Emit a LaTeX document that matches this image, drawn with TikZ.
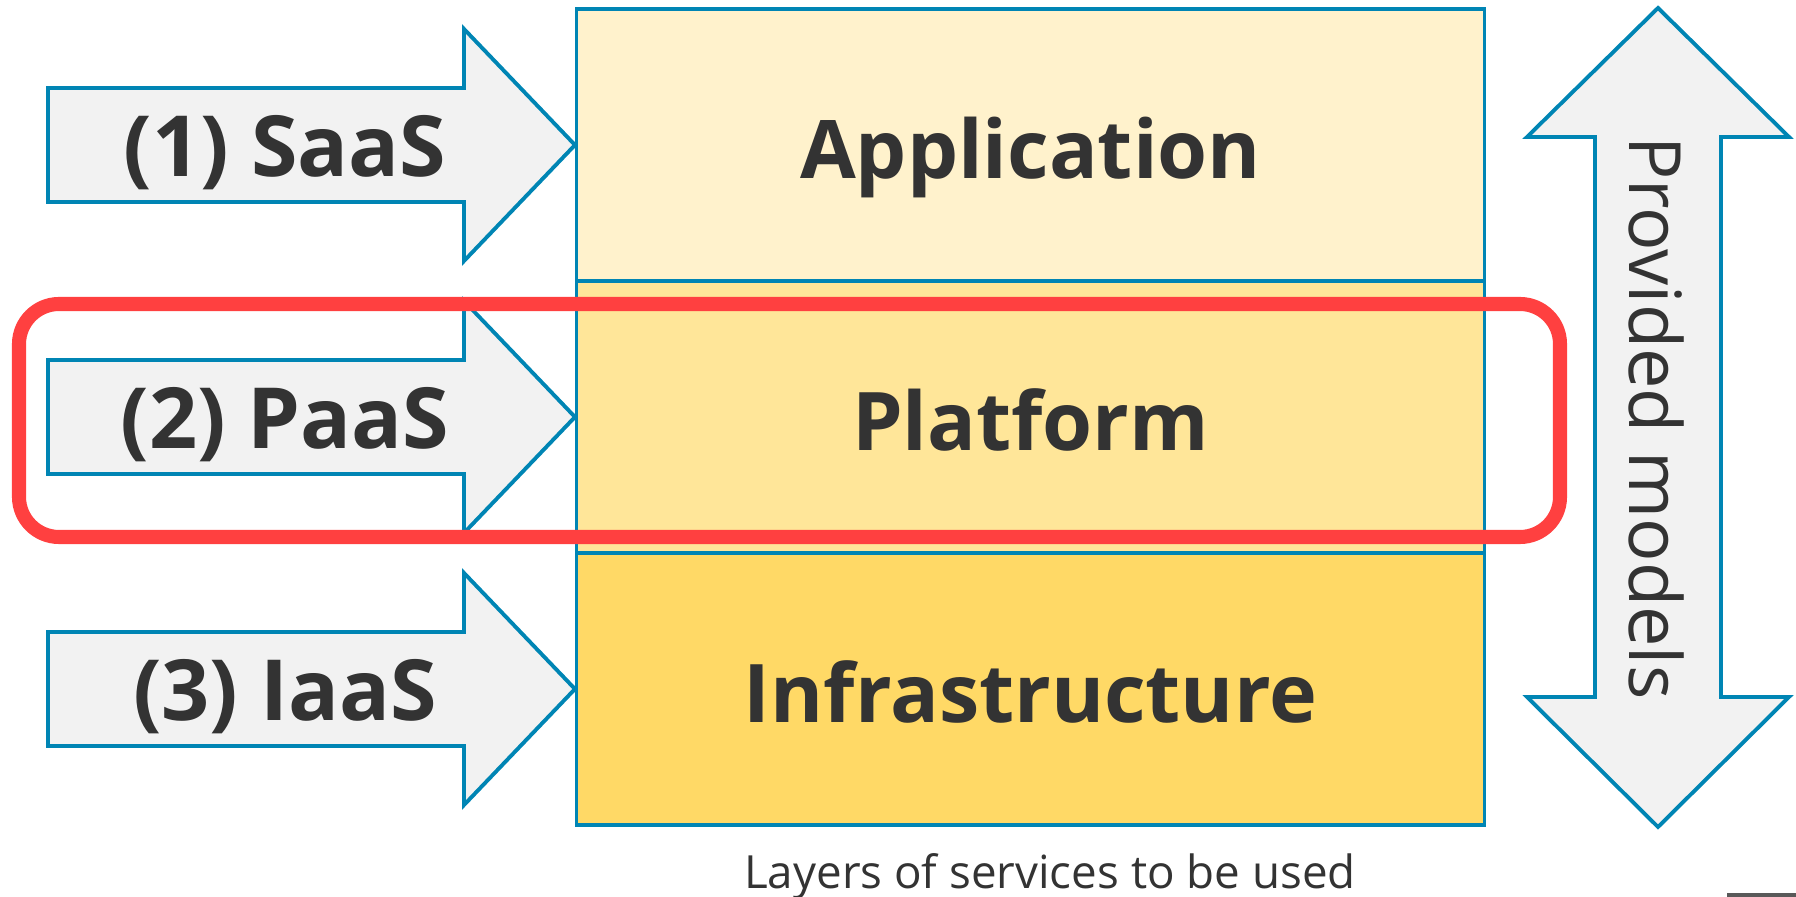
\documentclass[tikz,border=0pt]{standalone}
\usepackage{fontspec}
\setmainfont{Open Sans}
\definecolor{edgeblue}{RGB}{0,133,180}
\definecolor{arrowgray}{RGB}{242,242,242}
\definecolor{inkgray}{RGB}{51,51,51}
\definecolor{appfill}{RGB}{255,242,204}
\definecolor{platfill}{RGB}{255,230,153}
\definecolor{infrafill}{RGB}{255,217,102}
\definecolor{markred}{RGB}{255,64,64}
\tikzset{
  layer/.style={draw=edgeblue,line width=1pt,minimum width=9.07cm,minimum height=2.72cm,
    inner sep=0pt,text=inkgray,font=\fontsize{23}{28}\selectfont\bfseries,
    text height=18.8pt,text depth=0pt},
  blockarrow/.style={draw=edgeblue,fill=arrowgray,line width=1.1pt,line join=miter},
  armlabel/.style={text=inkgray,font=\fontsize{24}{28}\selectfont\bfseries,anchor=base,inner sep=0pt},
}
\begin{document}
\begin{tikzpicture}[x=0.01cm,y=0.01cm]
        \useasboundingbox (0,0) rectangle (1796,897);
        % layers
        \node[layer,fill=appfill] (app) at (1030.5,752) {Application};
        \node[layer,fill=platfill] (plat) at (1030.5,480) {Platform};
        \node[layer,fill=infrafill] (infra) at (1030.5,208) {Infrastructure};
        % saas
        \draw[blockarrow] (48,695) -- (464,695) -- (464,636) -- (app.west)
            -- (464,868) -- (464,809) -- (48,809) -- cycle;
        \node[armlabel] (saas) at (285,720) {(1) SaaS};
        % paas
        \draw[blockarrow] (48,423) -- (464,423) -- (464,364) -- (plat.west)
            -- (464,596) -- (464,537) -- (48,537) -- cycle;
        \node[armlabel] (paas) at (285,448) {(2) PaaS};
        % iaas
        \draw[blockarrow] (48,151) -- (464,151) -- (464,92) -- (infra.west)
            -- (464,324) -- (464,265) -- (48,265) -- cycle;
        \node[armlabel] (iaas) at (285,176) {(3) IaaS};
        % highlight
        \draw[markred,line width=4pt,rounded corners=0.4cm] (19,360) rectangle (1560,593);
        % models
        \draw[blockarrow] (1658,889) -- (1789,760) -- (1721,760) -- (1721,200) -- (1789,200)
            -- (1658,70) -- (1527,200) -- (1595,200) -- (1595,760) -- (1527,760) -- cycle;
        \node[text=inkgray,font=\fontsize{20.5}{24}\selectfont,rotate=-90,inner sep=0pt] (models) at (1657,479) {Provided models};
        % caption
        \node[text=inkgray,font=\fontsize{13}{16}\selectfont,anchor=base,inner sep=0pt] (caption) at (1050,8) {Layers of services to be used};
        \fill[black!65] (1727,0) rectangle (1796,4);
    \end{tikzpicture}
\end{document}
